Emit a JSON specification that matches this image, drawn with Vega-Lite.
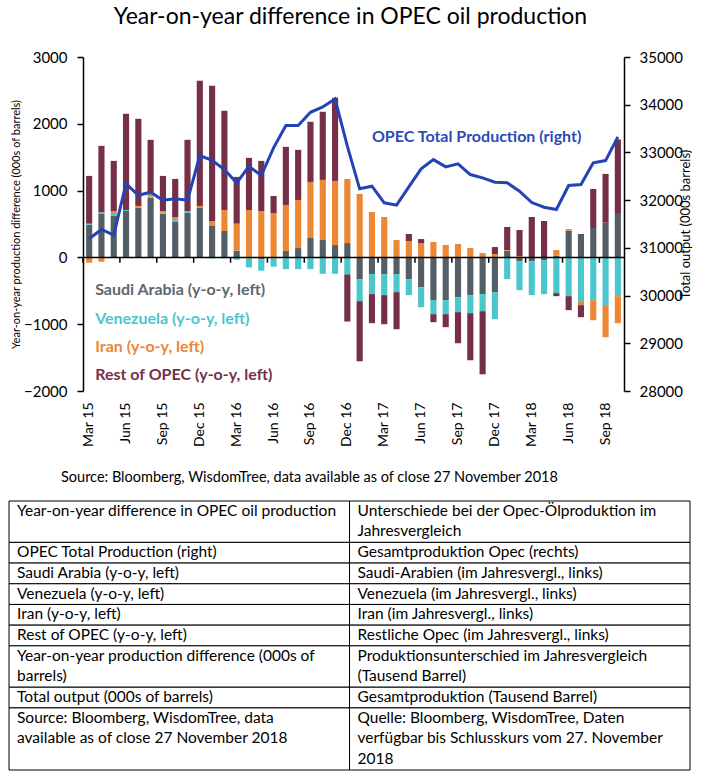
{
  "$schema": "https://vega.github.io/schema/vega-lite/v6.json",
  "padding": {"left": 8, "top": 6, "right": 4, "bottom": 6},
  "background": "white",
  "title": {"text": "Year-on-year difference in OPEC oil production", "font": "Lato", "fontSize": 23, "fontWeight": "normal", "color": "#000000", "anchor": "middle", "offset": 21},
  "config": {
    "view": {"stroke": null},
    "font": "Lato",
    "axis": {"labelFont": "Lato", "titleFont": "Lato", "labelColor": "#000000", "titleColor": "#000000", "domainColor": "#000000", "tickColor": "#000000", "grid": false}
  },
  "datasets": {
    "months": [
      {"m": "Mar 15", "sa": 490, "ve": 15, "ir": -80, "ro": 715, "tot": 31190},
      {"m": "Apr 15", "sa": 650, "ve": 25, "ir": -65, "ro": 995, "tot": 31385},
      {"m": "May 15", "sa": 620, "ve": 30, "ir": 45, "ro": 750, "tot": 31266},
      {"m": "Jun 15", "sa": 695, "ve": 15, "ir": 0, "ro": 1440, "tot": 32348},
      {"m": "Jul 15", "sa": 740, "ve": 15, "ir": 15, "ro": 1305, "tot": 32103},
      {"m": "Aug 15", "sa": 890, "ve": 20, "ir": 70, "ro": 780, "tot": 32166},
      {"m": "Sep 15", "sa": 655, "ve": 15, "ir": 25, "ro": 525, "tot": 31999},
      {"m": "Oct 15", "sa": 530, "ve": 45, "ir": 30, "ro": 570, "tot": 32028},
      {"m": "Nov 15", "sa": 670, "ve": 10, "ir": 15, "ro": 1065, "tot": 32000},
      {"m": "Dec 15", "sa": 740, "ve": 0, "ir": 30, "ro": 1875, "tot": 32934},
      {"m": "Jan 16", "sa": 470, "ve": -15, "ir": 75, "ro": 2025, "tot": 32836},
      {"m": "Feb 16", "sa": 395, "ve": -15, "ir": 315, "ro": 1485, "tot": 32641},
      {"m": "Mar 16", "sa": 100, "ve": -35, "ir": 405, "ro": 700, "tot": 32363},
      {"m": "Apr 16", "sa": -10, "ve": -140, "ir": 710, "ro": 780, "tot": 32710},
      {"m": "May 16", "sa": -30, "ve": -170, "ir": 695, "ro": 750, "tot": 32516},
      {"m": "Jun 16", "sa": -15, "ve": -125, "ir": 665, "ro": 255, "tot": 33095},
      {"m": "Jul 16", "sa": 95, "ve": -175, "ir": 690, "ro": 870, "tot": 33562},
      {"m": "Aug 16", "sa": 140, "ve": -175, "ir": 720, "ro": 750, "tot": 33562},
      {"m": "Sep 16", "sa": 290, "ve": -175, "ir": 840, "ro": 900, "tot": 33841},
      {"m": "Oct 16", "sa": 260, "ve": -245, "ir": 900, "ro": 1020, "tot": 33953},
      {"m": "Nov 16", "sa": 185, "ve": -245, "ir": 960, "ro": 1245, "tot": 34121},
      {"m": "Dec 16", "sa": 215, "ve": -255, "ir": 960, "ro": -705, "tot": 33130},
      {"m": "Jan 17", "sa": -325, "ve": -330, "ir": 950, "ro": -900, "tot": 32237},
      {"m": "Feb 17", "sa": -250, "ve": -300, "ir": 680, "ro": -435, "tot": 32292},
      {"m": "Mar 17", "sa": -250, "ve": -315, "ir": 605, "ro": -435, "tot": 31944},
      {"m": "Apr 17", "sa": -250, "ve": -270, "ir": 260, "ro": -555, "tot": 31894},
      {"m": "May 17", "sa": -325, "ve": -240, "ir": 245, "ro": 105, "tot": 32279},
      {"m": "Jun 17", "sa": -445, "ve": -300, "ir": 215, "ro": 60, "tot": 32656},
      {"m": "Jul 17", "sa": -640, "ve": -210, "ir": 230, "ro": -120, "tot": 32850},
      {"m": "Aug 17", "sa": -640, "ve": -210, "ir": 185, "ro": -195, "tot": 32698},
      {"m": "Sep 17", "sa": -595, "ve": -225, "ir": 200, "ro": -465, "tot": 32760},
      {"m": "Oct 17", "sa": -565, "ve": -270, "ir": 140, "ro": -705, "tot": 32536},
      {"m": "Nov 17", "sa": -550, "ve": -255, "ir": 65, "ro": -945, "tot": 32467},
      {"m": "Dec 17", "sa": -520, "ve": -405, "ir": 50, "ro": 105, "tot": 32375},
      {"m": "Jan 18", "sa": 100, "ve": -325, "ir": 10, "ro": 345, "tot": 32363},
      {"m": "Feb 18", "sa": -55, "ve": -435, "ir": 20, "ro": 390, "tot": 32187},
      {"m": "Mar 18", "sa": -55, "ve": -510, "ir": 0, "ro": 605, "tot": 31950},
      {"m": "Apr 18", "sa": -40, "ve": -510, "ir": 0, "ro": 545, "tot": 31852},
      {"m": "May 18", "sa": 25, "ve": -535, "ir": 85, "ro": -45, "tot": 31804},
      {"m": "Jun 18", "sa": 400, "ve": -580, "ir": 25, "ro": -210, "tot": 32306},
      {"m": "Jul 18", "sa": 350, "ve": -655, "ir": -60, "ro": -180, "tot": 32327},
      {"m": "Aug 18", "sa": 440, "ve": -640, "ir": -300, "ro": 585, "tot": 32781},
      {"m": "Sep 18", "sa": 520, "ve": -715, "ir": -480, "ro": 730, "tot": 32829},
      {"m": "Oct 18", "sa": 665, "ve": -580, "ir": -405, "ro": 1100, "tot": 33325}
    ],
    "series": [
      {"k": "sa", "o": 0},
      {"k": "ve", "o": 1},
      {"k": "ir", "o": 2},
      {"k": "ro", "o": 3}
    ],
    "table": [
      {"r": 1, "en": "Year-on-year difference in OPEC oil production", "de": "Unterschiede bei der Opec-Ölproduktion im\nJahresvergleich", "n": 2},
      {"r": 2, "en": "OPEC Total Production (right)", "de": "Gesamtproduktion Opec (rechts)", "n": 1},
      {"r": 3, "en": "Saudi Arabia (y-o-y, left)", "de": "Saudi-Arabien (im Jahresvergl., links)", "n": 1},
      {"r": 4, "en": "Venezuela (y-o-y, left)", "de": "Venezuela (im Jahresvergl., links)", "n": 1},
      {"r": 5, "en": "Iran (y-o-y, left)", "de": "Iran (im Jahresvergl., links)", "n": 1},
      {"r": 6, "en": "Rest of OPEC (y-o-y, left)", "de": "Restliche Opec (im Jahresvergl., links)", "n": 1},
      {"r": 7, "en": "Year-on-year production difference (000s of\nbarrels)", "de": "Produktionsunterschied im Jahresvergleich\n(Tausend Barrel)", "n": 2},
      {"r": 8, "en": "Total output (000s of barrels)", "de": "Gesamtproduktion (Tausend Barrel)", "n": 1},
      {"r": 9, "en": "Source: Bloomberg, WisdomTree, data\navailable as of close 27 November 2018", "de": "Quelle: Bloomberg, WisdomTree, Daten\nverfügbar bis Schlusskurs vom 27. November\n2018", "n": 3}
    ]
  },
  "spacing": 23,
  "resolve": {"scale": {"x": "independent", "y": "independent"}},
  "vconcat": [
    {
      "width": 541,
      "height": 334,
      "data": {"name": "months"},
      "resolve": {"scale": {"y": "independent"}},
      "layer": [
        {
          "layer": [
            {
              "transform": [
                {"fold": ["sa", "ve", "ir", "ro"], "as": ["k", "v"]},
                {"lookup": "k", "from": {"data": {"name": "series"}, "key": "k", "fields": ["o"]}}
              ],
              "mark": {"type": "bar"},
              "encoding": {
                "x": {
                  "field": "m", "type": "ordinal",
                  "scale": {"type": "band", "paddingInner": 0.5, "paddingOuter": 0.25,
                    "domain": ["Mar 15","Apr 15","May 15","Jun 15","Jul 15","Aug 15","Sep 15","Oct 15","Nov 15","Dec 15","Jan 16","Feb 16","Mar 16","Apr 16","May 16","Jun 16","Jul 16","Aug 16","Sep 16","Oct 16","Nov 16","Dec 16","Jan 17","Feb 17","Mar 17","Apr 17","May 17","Jun 17","Jul 17","Aug 17","Sep 17","Oct 17","Nov 17","Dec 17","Jan 18","Feb 18","Mar 18","Apr 18","May 18","Jun 18","Jul 18","Aug 18","Sep 18","Oct 18"]},
                  "axis": {
                    "values": ["Mar 15","Jun 15","Sep 15","Dec 15","Mar 16","Jun 16","Sep 16","Dec 16","Mar 17","Jun 17","Sep 17","Dec 17","Mar 18","Jun 18","Sep 18"],
                    "labelAngle": -90, "domain": false, "ticks": false, "labelPadding": 11, "labelFontSize": 14, "title": null
                  }
                },
                "y": {
                  "field": "v", "type": "quantitative", "stack": "zero",
                  "scale": {"domain": [-2000, 3000], "nice": false},
                  "axis": {
                    "values": [-2000, -1500, -1000, -500, 0, 500, 1000, 1500, 2000, 2500, 3000],
                    "format": "d",
                    "title": "Year-on-year production difference (000s of barrels)",
                    "titleFontSize": 11, "titleFontWeight": "normal", "titlePadding": 2,
                    "labelFontSize": 15, "tickSize": 6, "labelPadding": 10,
                    "domainWidth": 1.5, "tickWidth": 1.5
                  }
                },
                "color": {
                  "field": "k", "type": "nominal",
                  "scale": {"domain": ["sa", "ve", "ir", "ro"], "range": ["#545E67", "#4BC6CC", "#ED8733", "#752F49"]},
                  "legend": null
                },
                "order": {"field": "o", "type": "quantitative"}
              }
            },
            {
              "data": {"values": [{}]},
              "mark": {"type": "rule", "color": "#000000", "strokeWidth": 1.5},
              "encoding": {"y": {"datum": 0, "type": "quantitative"}}
            },
            {
              "transform": [{"filter": {"field": "m", "oneOf": ["Mar 15","Jun 15","Sep 15","Dec 15","Mar 16","Jun 16","Sep 16","Dec 16","Mar 17","Jun 17","Sep 17","Dec 17","Mar 18","Jun 18","Sep 18"]}}],
              "mark": {"type": "rule", "color": "#000000", "strokeWidth": 1.5},
              "encoding": {
                "x": {"field": "m", "type": "ordinal", "bandPosition": -0.5},
                "y": {"datum": 0, "type": "quantitative"},
                "y2": {"datum": -80}
              }
            },
            {
              "data": {"values": [{}]},
              "mark": {"type": "text", "align": "left", "baseline": "middle", "font": "Lato", "fontWeight": "bold", "fontSize": 16, "dx": 6, "color": "#5E666E"},
              "encoding": {"x": {"datum": "Mar 15", "type": "ordinal"}, "y": {"datum": -490, "type": "quantitative"}, "text": {"value": "Saudi Arabia (y-o-y, left)"}}
            },
            {
              "data": {"values": [{}]},
              "mark": {"type": "text", "align": "left", "baseline": "middle", "font": "Lato", "fontWeight": "bold", "fontSize": 16, "dx": 6, "color": "#4BC6CC"},
              "encoding": {"x": {"datum": "Mar 15", "type": "ordinal"}, "y": {"datum": -915, "type": "quantitative"}, "text": {"value": "Venezuela  (y-o-y, left)"}}
            },
            {
              "data": {"values": [{}]},
              "mark": {"type": "text", "align": "left", "baseline": "middle", "font": "Lato", "fontWeight": "bold", "fontSize": 16, "dx": 6, "color": "#ED8733"},
              "encoding": {"x": {"datum": "Mar 15", "type": "ordinal"}, "y": {"datum": -1340, "type": "quantitative"}, "text": {"value": "Iran (y-o-y, left)"}}
            },
            {
              "data": {"values": [{}]},
              "mark": {"type": "text", "align": "left", "baseline": "middle", "font": "Lato", "fontWeight": "bold", "fontSize": 16, "dx": 6, "color": "#752F49"},
              "encoding": {"x": {"datum": "Mar 15", "type": "ordinal"}, "y": {"datum": -1765, "type": "quantitative"}, "text": {"value": "Rest of OPEC (y-o-y, left)"}}
            },
            {
              "data": {"values": [{}]},
              "mark": {"type": "text", "align": "left", "baseline": "middle", "font": "Lato", "fontWeight": "bold", "fontSize": 16, "color": "#2B4BB8"},
              "encoding": {"x": {"datum": "Feb 17", "type": "ordinal"}, "y": {"datum": 1800, "type": "quantitative"}, "text": {"value": "OPEC Total Production (right)"}}
            }
          ]
        },
        {
          "mark": {"type": "line", "color": "#2443B5", "strokeWidth": 3},
          "encoding": {
            "x": {"field": "m", "type": "ordinal"},
            "y": {
              "field": "tot", "type": "quantitative",
              "scale": {"domain": [28000, 35000], "nice": false, "zero": false},
              "axis": {
                "orient": "right",
                "values": [28000, 29000, 30000, 31000, 32000, 33000, 34000, 35000],
                "format": "d",
                "title": "Total output (000s barrels)", "titleAngle": -90,
                "titleFontSize": 13, "titleFontWeight": "normal", "titlePadding": 10,
                "labelFontSize": 15, "tickSize": 6, "labelPadding": 9,
                "domainWidth": 1.5, "tickWidth": 1.5
              }
            },
            "order": {"value": null}
          }
        }
      ]
    },
    {
      "width": 541,
      "height": 269,
      "data": {"name": "table"},
      "title": {"text": "Source: Bloomberg, WisdomTree, data available as of close 27 November 2018", "anchor": "start", "frame": "group", "dx": -22, "fontSize": 14.5, "fontWeight": "normal", "font": "Lato", "color": "#000000", "offset": 15},
      "transform": [
        {"stack": "n", "groupby": [], "sort": [{"field": "r", "order": "ascending"}], "as": ["start", "end"]},
        {"fold": ["en", "de"], "as": ["col", "t"]}
      ],
      "encoding": {
        "x": {"field": "col", "type": "nominal", "scale": {"type": "band", "domain": ["en", "de"], "range": [-74, 607], "paddingInner": 0, "paddingOuter": 0}, "axis": null},
        "y": {"field": "start", "type": "quantitative", "scale": {"domain": [0, 13], "reverse": true, "nice": false, "zero": false}, "axis": null}
      },
      "layer": [
        {
          "mark": {"type": "rect", "fill": "#ffffff", "stroke": "#000000", "strokeWidth": 1},
          "encoding": {"y2": {"field": "end"}}
        },
        {
          "mark": {"type": "text", "align": "left", "baseline": "top", "dx": 8, "dy": 3, "lineBreak": "\n", "lineHeight": 20.3, "font": "Lato", "fontSize": 15.5, "color": "#000000"},
          "encoding": {
            "x": {"field": "col", "type": "nominal", "bandPosition": 0},
            "text": {"field": "t", "type": "nominal"}
          }
        }
      ]
    }
  ]
}
